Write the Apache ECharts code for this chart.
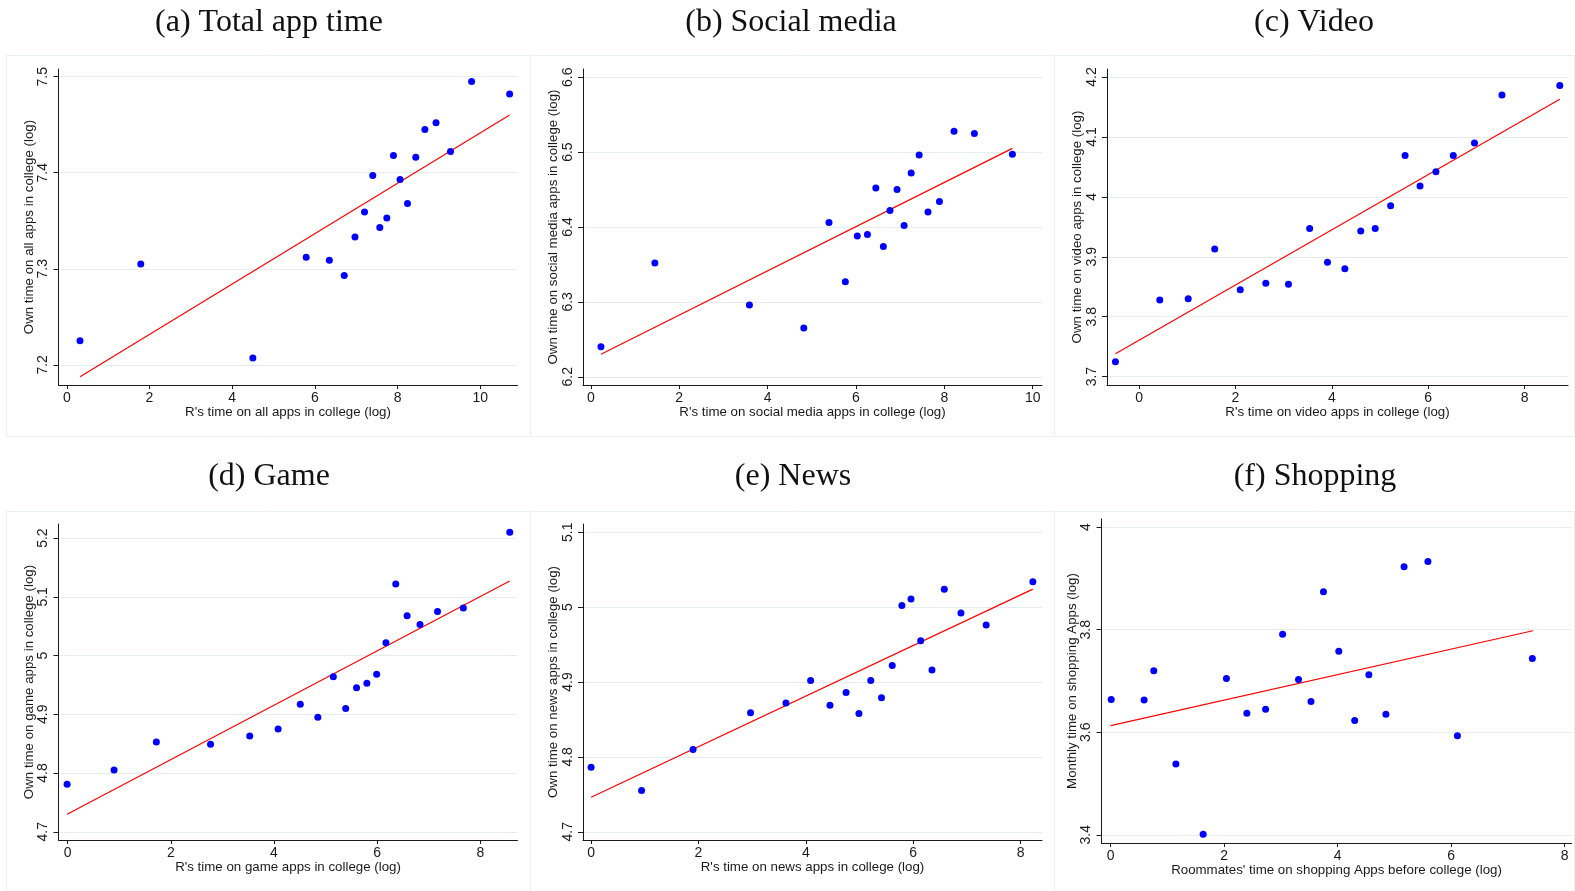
<!DOCTYPE html>
<html>
<head>
<meta charset="utf-8">
<script src="https://cdn.jsdelivr.net/npm/echarts@6/dist/echarts.min.js"></script>
<style>
html,body{margin:0;padding:0;background:#fff;}
#c{width:1575px;height:891px;}
</style>
</head>
<body>
<div id="c"></div>
<script>
// ---------- DATA ----------
const titles = ['(a) Total app time', '(b) Social media', '(c) Video', '(d) Game', '(e) News', '(f) Shopping'];
const xNames = ["R's time on all apps in college (log)", "R's time on social media apps in college (log)", "R's time on video apps in college (log)",
  "R's time on game apps in college (log)", "R's time on news apps in college (log)", "Roommates' time on shopping Apps before college (log)"];
const yNames = ['Own time on all apps in college (log)', 'Own time on social media apps in college (log)', 'Own time on video apps in college (log)',
  'Own time on game apps in college (log)', 'Own time on news apps in college (log)', 'Monthly time on shopping Apps (log)'];

const appX = [0.32, 1.79, 4.50, 5.79, 6.35, 6.71, 6.97, 7.20, 7.40, 7.57, 7.74, 7.90, 8.06, 8.24, 8.44, 8.66, 8.93, 9.28, 9.79, 10.71];
const appY = [7.225, 7.305, 7.207, 7.312, 7.309, 7.293, 7.333, 7.359, 7.397, 7.343, 7.353, 7.418, 7.393, 7.368, 7.416, 7.445, 7.452, 7.422, 7.495, 7.482];
const appFit = [[0.32, 7.1875], [10.71, 7.460]];

const socialX = [0.23, 1.45, 3.59, 4.82, 5.39, 5.76, 6.03, 6.26, 6.45, 6.62, 6.77, 6.93, 7.09, 7.25, 7.43, 7.63, 7.89, 8.22, 8.68, 9.54];
const socialY = [6.240, 6.352, 6.296, 6.265, 6.406, 6.327, 6.388, 6.390, 6.452, 6.374, 6.422, 6.450, 6.402, 6.472, 6.496, 6.420, 6.434, 6.528, 6.525, 6.497];
const socialFit = [[0.23, 6.230], [9.54, 6.505]];

const videoX = [-0.49, 0.43, 1.02, 1.57, 2.10, 2.63, 3.10, 3.54, 3.91, 4.27, 4.60, 4.90, 5.22, 5.52, 5.83, 6.16, 6.52, 6.96, 7.53, 8.73];
const videoY = [3.725, 3.828, 3.830, 3.913, 3.845, 3.856, 3.854, 3.947, 3.891, 3.880, 3.943, 3.947, 3.985, 4.069, 4.018, 4.042, 4.069, 4.090, 4.170, 4.186];
const videoFit = [[-0.49, 3.738], [8.73, 4.163]];

const gameX = [-0.01, 0.90, 1.72, 2.77, 3.53, 4.08, 4.51, 4.85, 5.15, 5.39, 5.60, 5.80, 5.99, 6.17, 6.36, 6.58, 6.83, 7.17, 7.67, 8.57];
const gameY = [4.781, 4.805, 4.853, 4.849, 4.863, 4.875, 4.917, 4.895, 4.964, 4.910, 4.945, 4.953, 4.968, 5.022, 5.122, 5.068, 5.053, 5.075, 5.081, 5.210];
const gameFit = [[-0.01, 4.730], [8.57, 5.127]];

const newsX = [0.00, 0.94, 1.90, 2.97, 3.63, 4.09, 4.45, 4.75, 4.99, 5.21, 5.41, 5.61, 5.79, 5.96, 6.14, 6.35, 6.58, 6.89, 7.36, 8.23];
const newsY = [4.786, 4.755, 4.810, 4.859, 4.872, 4.902, 4.869, 4.886, 4.858, 4.902, 4.879, 4.922, 5.002, 5.011, 4.955, 4.916, 5.024, 4.992, 4.976, 5.034];
const newsFit = [[0.00, 4.746], [8.23, 5.024]];

const shopX = [0.01, 0.59, 0.76, 1.15, 1.63, 2.04, 2.40, 2.73, 3.03, 3.31, 3.53, 3.75, 4.02, 4.30, 4.55, 4.85, 5.17, 5.59, 6.11, 7.43];
const shopY = [3.664, 3.663, 3.720, 3.538, 3.401, 3.705, 3.637, 3.645, 3.791, 3.703, 3.660, 3.874, 3.758, 3.623, 3.712, 3.635, 3.923, 3.933, 3.593, 3.744];
const shopFit = [[0.00, 3.613], [7.44, 3.798]];

const appXTicks = [0, 2, 4, 6, 8, 10];       const appYTicks = [7.2, 7.3, 7.4, 7.5];
const socialXTicks = [0, 2, 4, 6, 8, 10];    const socialYTicks = [6.2, 6.3, 6.4, 6.5, 6.6];
const videoXTicks = [0, 2, 4, 6, 8];         const videoYTicks = [3.7, 3.8, 3.9, 4, 4.1, 4.2];
const gameXTicks = [0, 2, 4, 6, 8];          const gameYTicks = [4.7, 4.8, 4.9, 5, 5.1, 5.2];
const newsXTicks = [0, 2, 4, 6, 8];          const newsYTicks = [4.7, 4.8, 4.9, 5, 5.1];
const shopXTicks = [0, 2, 4, 6, 8];          const shopYTicks = [3.4, 3.6, 3.8, 4];

// ---------- LAYOUT ----------
const panels = [
  {x: appX, y: appY, fit: appFit, xt: appXTicks, yt: appYTicks, xr: [-0.2, 10.9], yr: [7.179, 7.508], g: [58.5, 69, 459, 316], t: [269, 23]},
  {x: socialX, y: socialY, fit: socialFit, xt: socialXTicks, yt: socialYTicks, xr: [-0.176, 10.21], yr: [6.189, 6.611], g: [583, 69, 459, 316], t: [791, 23]},
  {x: videoX, y: videoY, fit: videoFit, xt: videoXTicks, yt: videoYTicks, xr: [-0.665, 8.9], yr: [3.686, 4.2134], g: [1107, 69, 461, 316], t: [1314, 23]},
  {x: gameX, y: gameY, fit: gameFit, xt: gameXTicks, yt: gameYTicks, xr: [-0.177, 8.72], yr: [4.686, 5.224], g: [58.5, 524, 459, 316], t: [269, 477]},
  {x: newsX, y: newsY, fit: newsFit, xt: newsXTicks, yt: newsYTicks, xr: [-0.151, 8.40], yr: [4.689, 5.111], g: [583, 524, 459, 316], t: [793, 477]},
  {x: shopX, y: shopY, fit: shopFit, xt: shopXTicks, yt: shopYTicks, xr: [-0.161, 8.12], yr: [3.384, 4.016], g: [1101.5, 519, 470, 324], t: [1315, 477]}
];
const frames = [[6.5, 55.5, 524, 381], [530.5, 55.5, 524, 381], [1054.5, 55.5, 520, 381],
                [6.5, 511.5, 524, 381], [530.5, 511.5, 524, 381], [1054.5, 511.5, 520, 381]];

const grid = [], xAxis = [], yAxis = [], series = [], graphic = [];
const axisCol = '#1a1a1a';
const sans = 'Liberation Sans, Arial, sans-serif';

frames.forEach(f => graphic.push({type: 'rect', silent: true, z: -10,
  shape: {x: f[0], y: f[1], width: f[2], height: f[3]},
  style: {fill: 'none', stroke: '#eaf0f0', lineWidth: 1}}));

panels.forEach((p, i) => {
  grid.push({left: p.g[0], top: p.g[1], width: p.g[2], height: p.g[3], containLabel: false});
  xAxis.push({
    type: 'value', gridIndex: i, min: p.xr[0], max: p.xr[1],
    name: xNames[i], nameLocation: 'middle', nameGap: 21,
    nameTextStyle: {fontFamily: sans, fontSize: 13.3, color: axisCol},
    axisLine: {show: true, onZero: false, lineStyle: {color: axisCol, width: 1}},
    axisTick: {show: true, length: 4, customValues: p.xt, lineStyle: {color: axisCol}},
    axisLabel: {customValues: p.xt, margin: 6, fontFamily: sans, fontSize: 14, color: axisCol},
    splitLine: {show: false}
  });
  yAxis.push({
    type: 'value', gridIndex: i, min: p.yr[0], max: p.yr[1],
    name: yNames[i], nameLocation: 'middle', nameGap: 23, nameRotate: 90,
    nameTextStyle: {fontFamily: sans, fontSize: 13.3, color: axisCol},
    axisLine: {show: true, onZero: false, lineStyle: {color: axisCol, width: 1}},
    axisTick: {show: true, length: 5, customValues: p.yt, lineStyle: {color: axisCol}},
    axisLabel: {customValues: p.yt, rotate: 90, margin: 8, fontFamily: sans, fontSize: 14, color: axisCol},
    splitLine: {show: true, lineStyle: {color: '#e4eced', width: 1}}
  });
  series.push({
    type: 'scatter', xAxisIndex: i, yAxisIndex: i, symbolSize: 7,
    itemStyle: {color: '#0000ff', opacity: 1}, z: 3,
    data: p.x.map((v, k) => [v, p.y[k]])
  });
  series.push({
    type: 'line', xAxisIndex: i, yAxisIndex: i, symbol: 'none', z: 2,
    lineStyle: {color: '#ff0000', width: 1.2},
    data: p.fit
  });
  graphic.push({type: 'text', silent: true,
    style: {x: p.t[0], y: p.t[1], text: titles[i], textAlign: 'center', textVerticalAlign: 'middle',
      font: '32px "Liberation Serif", "Times New Roman", serif', fill: '#111'}});
});

const chart = echarts.init(document.getElementById('c'), null, {renderer: 'canvas'});
chart.setOption({animation: false, backgroundColor: '#fff', grid, xAxis, yAxis, series, graphic});
</script>
</body>
</html>
